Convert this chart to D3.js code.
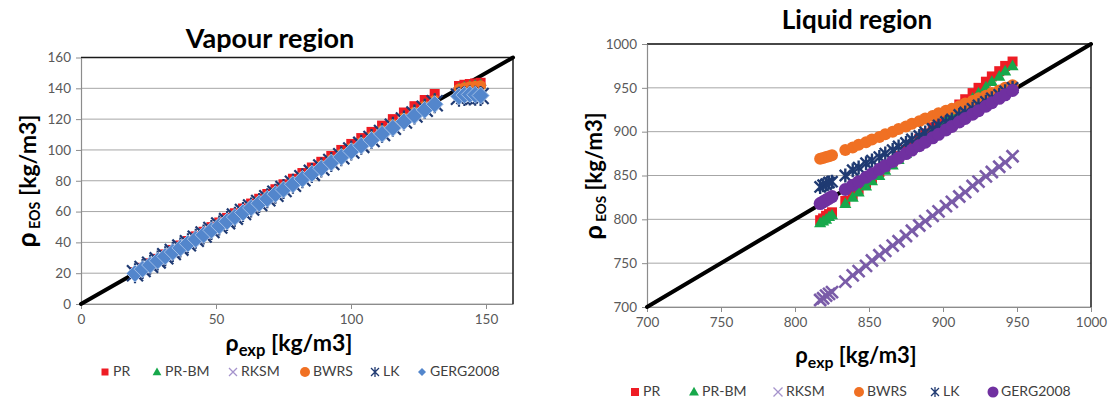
<!DOCTYPE html>
<html><head><meta charset="utf-8">
<script src="https://cdn.jsdelivr.net/npm/d3@7"></script>
<style>
html,body{margin:0;padding:0;background:#fff;}
svg{display:block;}
text{font-family:Lato,"Open Sans",sans-serif;}
</style></head>
<body>
<svg id="chart" width="1112" height="401"></svg>
<script>
// ---------- DATA ----------
const seriesNames = ["PR", "PR-BM", "RKSM", "BWRS", "LK", "GERG2008"];

// Vapour region
const vapourXTicks = [0, 50, 100, 150];
const vapourYTicks = [0, 20, 40, 60, 80, 100, 120, 140, 160];
const vapourExp = [20, 22.8, 25.6, 28.4, 31.2, 34, 36.8, 39.6, 42.5, 45.4, 48.3, 51.2, 54.1, 57, 60, 63, 66, 69, 72, 75, 78.5, 82, 85.5, 89, 92.7, 96.4, 100.1, 103.8, 107.6, 111.5, 115.5, 119.6, 123.5, 127.3, 131, 140, 142, 144, 146, 148];
const vapourPR = [20.6, 23.5, 26.4, 29.3, 32.2, 35.1, 38, 40.9, 43.9, 46.9, 49.9, 52.9, 55.9, 58.9, 62, 65.2, 68.3, 71.4, 74.5, 77.7, 81.3, 85, 88.6, 92.3, 96.1, 100, 103.9, 107.7, 111.7, 115.8, 120, 124.3, 128.4, 132.4, 136.3, 141.5, 142.3, 142.8, 143.2, 143.6];
const vapourPRBM = [20.4, 23.3, 26.1, 29, 31.8, 34.7, 37.5, 40.4, 43.4, 46.3, 49.3, 52.2, 55.2, 58.1, 61.2, 64.3, 67.3, 70.4, 73.4, 76.5, 80.1, 83.6, 87.2, 90.8, 94.6, 98.3, 102.1, 105.9, 109.8, 113.7, 117.8, 122, 126, 129.8, 133.6, 140.2, 141.2, 141.8, 142.3, 142.6];
const vapourRKSM = [20, 22.8, 25.6, 28.4, 31.2, 34, 36.8, 39.6, 42.5, 45.4, 48.3, 51.2, 54.1, 57, 60, 63, 66, 69, 72, 75, 78.5, 82, 85.5, 89, 92.7, 96.4, 100.1, 103.8, 107.6, 111.5, 115.5, 119.6, 123.5, 127.3, 131, 137, 137.8, 138.3, 138.6, 138.8];
const vapourBWRS = [20.2, 23, 25.9, 28.7, 31.5, 34.3, 37.2, 40, 42.9, 45.9, 48.8, 51.7, 54.6, 57.6, 60.6, 63.6, 66.7, 69.7, 72.7, 75.8, 79.3, 82.8, 86.4, 89.9, 93.6, 97.4, 101.1, 104.8, 108.7, 112.6, 116.7, 120.8, 124.7, 128.6, 132.3, 139.5, 140.4, 141, 141.4, 141.7];
const vapourLK = [19.9, 22.7, 25.5, 28.3, 31, 33.8, 36.6, 39.4, 42.3, 45.1, 48, 50.9, 53.8, 56.7, 59.7, 62.7, 65.6, 68.6, 71.6, 74.6, 78.1, 81.6, 85.1, 88.6, 92.2, 95.9, 99.6, 103.3, 107.1, 111, 115, 119.1, 123, 126.7, 130.3, 134.5, 135, 135.3, 135.2, 135];
const vapourGERG = [19.8, 22.6, 25.3, 28.1, 30.9, 33.7, 36.4, 39.2, 42.1, 44.9, 47.8, 50.7, 53.6, 56.4, 59.4, 62.4, 65.3, 68.3, 71.3, 74.3, 77.7, 81.2, 84.6, 88.1, 91.8, 95.4, 99.1, 102.8, 106.5, 110.4, 114.3, 118.4, 122.3, 126, 129.7, 134.8, 135.6, 136, 135.8, 135.3];

// Liquid region
const liquidTicks = [700, 750, 800, 850, 900, 950, 1000];
const liquidExp = [817, 819, 821, 823, 825, 834, 839, 843, 848, 852, 857, 861, 866, 870, 875, 879, 884, 888, 893, 897, 902, 906, 911, 915, 920, 924, 929, 933, 938, 942, 947];
const liquidPR = [799, 801, 804, 806, 808, 821, 828, 834, 841, 847, 854, 860, 866, 872, 879, 885, 892, 898, 905, 911, 918, 924, 931, 937, 944, 950, 957, 963, 969, 975, 980];
const liquidPRBM = [796, 798, 800, 803, 805, 818, 825, 831, 838, 844, 850, 856, 862, 868, 875, 881, 887, 893, 900, 906, 913, 919, 926, 931, 938, 944, 951, 957, 963, 969, 975];
const liquidRKSM = [708, 710, 713, 715, 717, 729, 736, 741, 747, 753, 759, 764, 770, 775, 781, 787, 793, 798, 804, 809, 815, 820, 826, 831, 838, 843, 849, 854, 860, 865, 872];
const liquidBWRS = [869, 870, 871, 872, 873, 879, 882, 885, 888, 891, 894, 897, 900, 903, 906, 909, 912, 915, 918, 921, 924, 926, 929, 932, 935, 938, 941, 944, 947, 950, 953];
const liquidLK = [837, 839, 840, 842, 843, 850, 856, 859, 864, 867, 871, 875, 879, 883, 887, 891, 895, 899, 903, 907, 911, 914, 919, 922, 926, 930, 934, 938, 942, 946, 950];
const liquidGERG = [818, 820, 822, 824, 826, 834, 839, 843, 848, 852, 857, 861, 866, 870, 875, 879, 884, 888, 893, 897, 902, 906, 911, 915, 920, 924, 929, 933, 938, 942, 947];

// ---------- DRAWING ----------
const svg = d3.select("#chart");

function markerPath(type, r) {
  switch (type) {
    case "square": return `M${-r},${-r}H${r}V${r}H${-r}Z`;
    case "triangle": return `M0,${-r * 1.15}L${r * 1.1},${r * 0.8}L${-r * 1.1},${r * 0.8}Z`;
    case "x": return `M${-r},${-r}L${r},${r}M${-r},${r}L${r},${-r}`;
    case "star": return `M${-r * 0.8},${-r * 0.8}L${r * 0.8},${r * 0.8}M${-r * 0.8},${r * 0.8}L${r * 0.8},${-r * 0.8}M0,${-r}V${r}`;
    case "diamond": return `M0,${-r}L${r},0L0,${r}L${-r},0Z`;
    case "circle": return d3.symbol(d3.symbolCircle, Math.PI * r * r)();
  }
}

function drawChart(cfg) {
  const g = svg.append("g");
  const x = d3.scaleLinear().domain(cfg.xDomain).range([cfg.left, cfg.right]);
  const y = d3.scaleLinear().domain(cfg.yDomain).range([cfg.bottom, cfg.top]);

  // gridlines
  g.append("g").selectAll("line").data(cfg.yTicks).join("line")
    .attr("x1", cfg.left).attr("x2", cfg.right)
    .attr("y1", d => y(d)).attr("y2", d => y(d))
    .attr("stroke", "#a6a6a6").attr("stroke-width", 1);

  // plot border (top & right dark)
  g.append("path")
    .attr("d", `M${cfg.left},${cfg.top}H${cfg.right}V${cfg.bottom}`)
    .attr("fill", "none").attr("stroke", "#1a1a1a").attr("stroke-width", 1.5);

  // axes
  const fmt = d3.format("d");
  const yAxis = d3.axisLeft(y).tickValues(cfg.yTicks).tickFormat(fmt).tickSize(5).tickPadding(5).tickSizeOuter(0);
  const xAxis = d3.axisBottom(x).tickValues(cfg.xTicks).tickFormat(fmt).tickSize(5).tickPadding(5).tickSizeOuter(0);
  const ya = g.append("g").attr("transform", `translate(${cfg.left},0)`).call(yAxis);
  const xa = g.append("g").attr("transform", `translate(0,${cfg.bottom})`).call(xAxis);
  [ya, xa].forEach(a => {
    a.select(".domain").attr("stroke", "#8c8c8c").attr("stroke-width", 1.2);
    a.selectAll(".tick line").attr("stroke", "#8c8c8c");
    a.selectAll(".tick text").attr("fill", "#595959").style("font-size", cfg.tickFont + "px")
      .style("font-family", "Lato, 'Open Sans', sans-serif");
  });

  // diagonal y = x
  g.append("line")
    .attr("x1", x(cfg.xDomain[0])).attr("y1", y(cfg.yDomain[0]))
    .attr("x2", x(cfg.xDomain[1])).attr("y2", y(cfg.yDomain[1]))
    .attr("stroke", "#000").attr("stroke-width", 4).attr("stroke-linecap", "round");

  // series
  cfg.series.forEach(s => {
    const pts = cfg.xs.map((v, i) => [v, s.values[i]]);
    g.append("g").selectAll("path").data(pts).join("path")
      .attr("transform", d => `translate(${x(d[0])},${y(d[1])})`)
      .attr("d", markerPath(s.type, s.r))
      .attr("fill", s.line ? "none" : s.color)
      .attr("stroke", s.line ? s.color : (s.stroke || "none"))
      .attr("stroke-width", s.line ? s.sw : (s.strokeW || 0));
  });

  // title
  g.append("text").attr("x", cfg.titleX).attr("y", cfg.titleY)
    .attr("text-anchor", "middle").style("font-weight", "bold")
    .style("font-size", cfg.titleFont + "px").attr("fill", "#000").text(cfg.title);

  // x axis title
  const xt = g.append("text").attr("x", cfg.xTitleX).attr("y", cfg.xTitleY)
    .attr("text-anchor", "middle").style("font-weight", "bold")
    .style("font-size", cfg.axisFont + "px").attr("fill", "#000");
  xt.append("tspan").text("ρ");
  xt.append("tspan").attr("dy", cfg.axisFont * 0.22).style("font-size", (cfg.axisFont * 0.72) + "px").text("exp");
  xt.append("tspan").attr("dy", -cfg.axisFont * 0.22).text(" [kg/m3]");

  // y axis title
  const yt = g.append("text")
    .attr("transform", `translate(${cfg.yTitleX},${cfg.yTitleY}) rotate(-90)`)
    .attr("text-anchor", "middle").style("font-weight", "bold")
    .style("font-size", cfg.axisFont + "px").attr("fill", "#000");
  yt.append("tspan").style("font-size", (cfg.axisFont * 1.15) + "px").text("ρ");
  yt.append("tspan").attr("dy", cfg.axisFont * 0.18).style("font-size", (cfg.axisFont * 0.62) + "px").text(" EOS");
  yt.append("tspan").attr("dy", -cfg.axisFont * 0.18).text(" [kg/m3]");

  // legend
  const lg = g.append("g");
  cfg.series.forEach((s, i) => {
    const lx = cfg.legendX[i];
    lg.append("path")
      .attr("transform", `translate(${lx},${cfg.legendY - 4})`)
      .attr("d", markerPath(s.type, s.lr))
      .attr("fill", s.line ? "none" : (s.legendColor || s.color))
      .attr("stroke", s.line ? (s.legendColor || s.color) : "none")
      .attr("stroke-width", s.line ? 1.3 : 0);
    lg.append("text").attr("x", lx + cfg.legendGap).attr("y", cfg.legendY)
      .style("font-size", cfg.legendFont + "px").attr("fill", "#404040").text(seriesNames[i]);
  });
}

const red = "#ee1c24", green = "#17a84b", lav = "#7a5ca8", orange = "#f07023", navy = "#1f3a72";

drawChart({
  left: 81, right: 513, top: 57.5, bottom: 304,
  xDomain: [0, 160], yDomain: [0, 160],
  xTicks: vapourXTicks, yTicks: vapourYTicks, tickFont: 13.5,
  xs: vapourExp,
  series: [
    { values: vapourPR, type: "square", r: 5, color: red, lr: 3.5 },
    { values: vapourPRBM, type: "triangle", r: 5, color: green, lr: 4 },
    { values: vapourRKSM, type: "x", r: 5.5, color: lav, line: true, sw: 2, lr: 4, legendColor: "#a593cc" },
    { values: vapourBWRS, type: "circle", r: 5.5, color: orange, lr: 5 },
    { values: vapourLK, type: "star", r: 10, color: navy, line: true, sw: 2.2, lr: 5 },
    { values: vapourGERG, type: "diamond", r: 8.5, color: "#5386cc", stroke: "#9fbde6", strokeW: 1, lr: 4 }
  ],
  title: "Vapour region", titleX: 270, titleY: 48, titleFont: 27,
  xTitleX: 289, xTitleY: 351, axisFont: 23,
  yTitleX: 36, yTitleY: 181,
  legendX: [105, 157, 233, 305, 375, 422], legendY: 376, legendGap: 8, legendFont: 14
});

drawChart({
  left: 647, right: 1091, top: 44, bottom: 307,
  xDomain: [700, 1000], yDomain: [700, 1000],
  xTicks: liquidTicks, yTicks: liquidTicks, tickFont: 13.5,
  xs: liquidExp,
  series: [
    { values: liquidPR, type: "square", r: 5, color: red, lr: 4 },
    { values: liquidPRBM, type: "triangle", r: 5.5, color: green, lr: 4.5 },
    { values: liquidRKSM, type: "x", r: 6, color: lav, line: true, sw: 2.6, lr: 4.5, legendColor: "#a593cc" },
    { values: liquidBWRS, type: "circle", r: 6, color: orange, lr: 5 },
    { values: liquidLK, type: "star", r: 7, color: navy, line: true, sw: 2.4, lr: 5 },
    { values: liquidGERG, type: "circle", r: 6.5, color: "#7030a0", lr: 5.5 }
  ],
  title: "Liquid region", titleX: 857, titleY: 29, titleFont: 26,
  xTitleX: 856, xTitleY: 363, axisFont: 22,
  yTitleX: 602, yTitleY: 176,
  legendX: [635, 694, 778, 859, 935, 993], legendY: 396, legendGap: 8, legendFont: 14
});
</script>
</body></html>
